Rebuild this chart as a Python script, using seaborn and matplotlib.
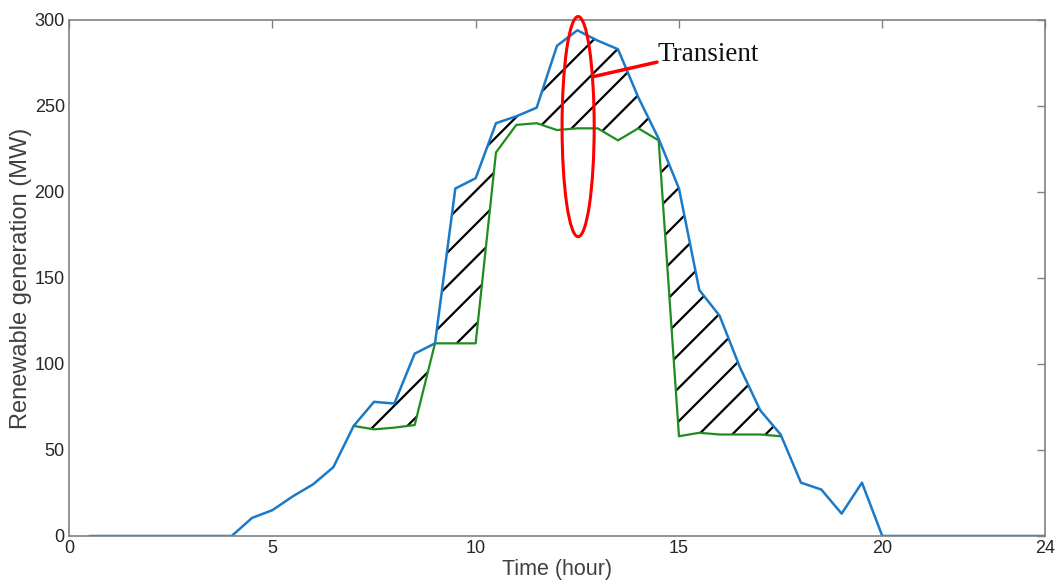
import matplotlib
matplotlib.use('Agg')
import matplotlib.pyplot as plt
from matplotlib.patches import Ellipse
import seaborn as sns
import pandas as pd

# Renewable generation (MW)
hours_total = [0.5, 4, 4.5, 5, 5.5, 6, 6.5, 7, 7.5, 8, 8.5, 9, 9.5, 10, 10.5, 11, 11.5,
               12, 12.5, 13, 13.5, 14, 14.5, 15, 15.5, 16, 16.5, 17, 17.5, 18, 18.5,
               19, 19.5, 20, 24]
gen_total = [0, 0, 10.5, 15, 23, 30, 40, 64, 78, 77, 106, 112, 202, 208, 240, 244, 249,
             285, 294, 288, 283, 255, 231, 202, 143, 128, 98, 73, 59, 31, 27,
             13, 31, 0, 0]

hours_smooth = [7, 7.5, 8, 8.5, 9, 9.5, 10, 10.5, 11, 11.5, 12, 12.5, 13, 13.5, 14,
                14.5, 15, 15.5, 16, 16.5, 17, 17.5]
gen_smooth = [64, 62, 63, 64.5, 112, 112, 112, 223, 239, 240, 236, 237, 237, 230, 237,
              230, 58, 60, 59, 59, 59, 58]

x_ticks = [0, 5, 10, 15, 20, 24]
y_ticks = [0, 50, 100, 150, 200, 250, 300]

df_total = pd.DataFrame({'hour': hours_total, 'gen': gen_total})
df_smooth = pd.DataFrame({'hour': hours_smooth, 'gen': gen_smooth})

sns.set_style('white')
plt.rcParams['font.family'] = ['Liberation Sans', 'DejaVu Sans']
plt.rcParams['hatch.linewidth'] = 1.6

fig = plt.figure(figsize=(10.57, 5.84), dpi=100)
ax = fig.add_axes([0.0653, 0.0822, 0.9233, 0.8836])

# hatched gap between total and smoothed output
top_on_grid = df_total.set_index('hour').loc[hours_smooth, 'gen'].values
ax.fill_between(hours_smooth, gen_smooth, top_on_grid, facecolor='none',
                edgecolor='black', hatch='/', linewidth=0)

sns.lineplot(data=df_smooth, x='hour', y='gen', color='#1e8c1e', linewidth=1.6, ax=ax)
sns.lineplot(data=df_total, x='hour', y='gen', color='#1a7ac8', linewidth=1.8, ax=ax)

ax.set_xlim(0, 24)
ax.set_ylim(0, 300)
ax.set_xticks(x_ticks)
ax.set_yticks(y_ticks)
ax.set_xlabel('Time (hour)', fontsize=15.5, color='#404040', labelpad=1)
ax.set_ylabel('Renewable generation (MW)', fontsize=17, color='#404040', labelpad=2)
ax.tick_params(direction='in', top=True, right=True, length=6, width=1,
               color='#808080', labelsize=13, labelcolor='#262626', pad=3)
for s in ax.spines.values():
    s.set_color('#808080')
    s.set_linewidth(1.2)

# transient marker
ax.add_patch(Ellipse((12.52, 238), 0.79, 128, fill=False, edgecolor='#ff0000',
                     linewidth=2.2, clip_on=False, zorder=5))
ax.plot([12.88, 14.46], [267, 275.5], color='#ff0000', linewidth=2.5, zorder=5)
ax.text(14.48, 280, 'Transient', fontsize=19.5, family=['Liberation Serif'],
        color='#111111', va='center', ha='left')

fig.savefig('out.png', dpi=100)
